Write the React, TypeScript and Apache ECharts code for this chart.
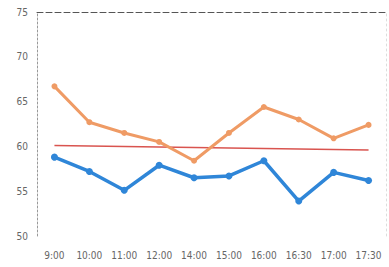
import React, { useEffect, useRef } from "react";
import * as echarts from "echarts";

const categories = ["9:00", "10:00", "11:00", "12:00", "14:00", "15:00", "16:00", "16:30", "17:00", "17:30"];
const orangeValues = [66.7, 62.7, 61.5, 60.5, 58.4, 61.5, 64.4, 63.0, 60.9, 62.4];
const blueValues = [58.8, 57.2, 55.1, 57.9, 56.5, 56.7, 58.4, 53.9, 57.1, 56.2];
const redValues: (number | string)[] = [60.1, "-", "-", "-", "-", "-", "-", "-", "-", 59.6];
const yMin = 50;
const yMax = 75;
const yInterval = 5;

export default function App() {
  const ref = useRef<HTMLDivElement>(null);
  useEffect(() => {
    if (!ref.current) return;
    const chart = echarts.init(ref.current, null, { renderer: "svg" });
    const labelStyle = {
      color: "#666",
      fontSize: 10,
      fontFamily: "DejaVu Sans Condensed, DejaVu Sans, sans-serif",
    };
    chart.setOption({
      animation: false,
      backgroundColor: "#ffffff",
      grid: { left: 37, right: 3, top: 12, bottom: 31 },
      xAxis: [
        {
          type: "category",
          data: categories,
          boundaryGap: true,
          axisLine: { show: false },
          axisTick: { show: false },
          axisLabel: { ...labelStyle, margin: 14 },
        },
        {
          type: "category",
          data: categories,
          position: "top",
          axisLine: { show: true, lineStyle: { color: "#555", type: [6, 3], width: 1 } },
          axisTick: { show: false },
          axisLabel: { show: false },
        },
      ],
      yAxis: [
        {
          type: "value",
          min: yMin,
          max: yMax,
          interval: yInterval,
          axisLine: { show: true, lineStyle: { color: "#999", type: [2, 2], width: 1 } },
          axisTick: { show: false },
          splitLine: { show: false },
          axisLabel: { ...labelStyle, margin: 9 },
        },
        {
          type: "value",
          min: yMin,
          max: yMax,
          interval: yInterval,
          position: "right",
          axisLine: { show: true, lineStyle: { color: "#ddd", type: [2, 3], width: 1 } },
          axisTick: { show: false },
          splitLine: { show: false },
          axisLabel: { show: false },
        },
      ],
      series: [
        {
          type: "line",
          data: redValues,
          connectNulls: true,
          showSymbol: false,
          symbol: "none",
          lineStyle: { color: "#d9544f", width: 1.5 },
          z: 1,
        },
        {
          type: "line",
          data: orangeValues,
          symbol: "circle",
          symbolSize: 6,
          itemStyle: { color: "#ef9b65" },
          lineStyle: { color: "#ef9b65", width: 3 },
          z: 2,
        },
        {
          type: "line",
          data: blueValues,
          symbol: "circle",
          symbolSize: 7,
          itemStyle: { color: "#2f86d8" },
          lineStyle: { color: "#2f86d8", width: 3.5 },
          z: 3,
        },
      ],
    });
    return () => chart.dispose();
  }, []);
  return (
    <div
      ref={ref}
      style={{ position: "fixed", left: 0, top: 0, width: 389, height: 267, background: "#fff" }}
    />
  );
}
